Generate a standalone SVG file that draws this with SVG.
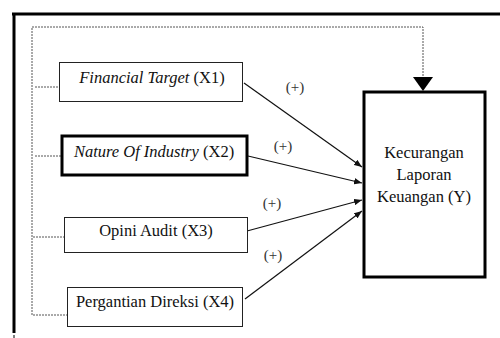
<svg xmlns="http://www.w3.org/2000/svg" width="500" height="338" viewBox="0 0 500 338">
  <style>
    text { font-family: "Liberation Serif", "DejaVu Serif", serif; font-size: 16.5px; fill: #111; }
    .sign { font-size: 15px; fill: #333; text-anchor: middle; }
    .box { fill: #fff; stroke: #222; stroke-width: 1; }
    .box-bold { fill: #fff; stroke: #000; stroke-width: 3; }
    .dot { fill: none; stroke: #555; stroke-width: 1; stroke-dasharray: 2 1; }
    .link { fill: none; stroke: #111; stroke-width: 1.2; marker-end: url(#head); }
  </style>
  <defs>
    <marker id="head" viewBox="0 0 10 8" refX="10" refY="4" markerWidth="8" markerHeight="6.5" markerUnits="userSpaceOnUse" orient="auto">
      <path d="M0,0 L10,4 L0,8 Z" fill="#111"/>
    </marker>
  </defs>
  <rect width="500" height="338" fill="#fff"/>

  <!-- outer frame -->
  <g id="frame">
    <line x1="12" y1="14" x2="500" y2="14" stroke="#000" stroke-width="3"/>
    <line x1="14" y1="13" x2="14" y2="333" stroke="#000" stroke-width="3"/>
    <line x1="14" y1="335" x2="14" y2="338" stroke="#000" stroke-width="1"/>
  </g>

  <g id="connectors">
    <!-- dotted moderating path -->
    <polyline class="dot" points="32,315 32,27 423,27 423,78"/>
    <path d="M413,77 L433,77 L423,91 Z" fill="#000"/>
    <line class="dot" x1="35" y1="87" x2="62" y2="87"/>
    <line class="dot" x1="35" y1="156" x2="62" y2="156"/>
    <line class="dot" x1="33" y1="237" x2="64" y2="237"/>
    <line class="dot" x1="33" y1="315" x2="68" y2="315"/>
    <!-- direct effects -->
    <line class="link" x1="244" y1="83" x2="362" y2="167"/>
    <line class="link" x1="248" y1="156" x2="362" y2="183"/>
    <line class="link" x1="247" y1="231" x2="362" y2="200"/>
    <line class="link" x1="245" y1="299" x2="362" y2="211"/>
    <text class="sign" x="295" y="92">(+)</text>
    <text class="sign" x="283" y="151">(+)</text>
    <text class="sign" x="272" y="208">(+)</text>
    <text class="sign" x="273" y="260">(+)</text>
  </g>

  <g id="x1">
    <rect class="box" x="59.5" y="62.5" width="183" height="39"/>
    <text x="152" y="83" text-anchor="middle"><tspan font-style="italic">Financial Target</tspan> (X1)</text>
  </g>
  <g id="x2">
    <rect class="box-bold" x="62" y="136" width="185" height="39"/>
    <text x="154" y="157" text-anchor="middle"><tspan font-style="italic">Nature Of Industry</tspan> (X2)</text>
  </g>
  <g id="x3">
    <rect class="box" x="64.5" y="217.5" width="183" height="35"/>
    <text x="156" y="236" text-anchor="middle">Opini Audit (X3)</text>
  </g>
  <g id="x4">
    <rect class="box" x="67.5" y="287.5" width="175" height="39"/>
    <text x="155" y="307" text-anchor="middle">Pergantian Direksi (X4)</text>
  </g>
  <g id="y">
    <rect class="box-bold" x="364" y="92" width="121" height="185"/>
    <text x="424" y="158" text-anchor="middle">Kecurangan</text>
    <text x="424" y="180" text-anchor="middle">Laporan</text>
    <text x="424" y="202" text-anchor="middle">Keuangan (Y)</text>
  </g>
</svg>
